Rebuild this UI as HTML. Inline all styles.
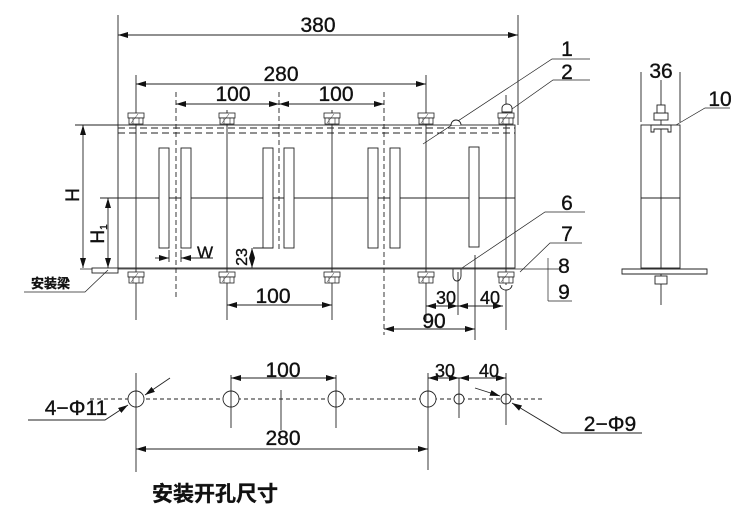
<!DOCTYPE html>
<html><head><meta charset="utf-8"><style>
body{margin:0;background:#fff;}
svg{display:block;}
text{font-family:"Liberation Sans","Noto Sans CJK SC",sans-serif;fill:#111;stroke:#111;stroke-width:0.35;}
</style></head><body>
<svg width="750" height="531" viewBox="0 0 750 531" xmlns="http://www.w3.org/2000/svg">
<defs>
<marker id="a" viewBox="0 0 10 6" refX="10" refY="3" markerWidth="10" markerHeight="6" orient="auto-start-reverse" markerUnits="userSpaceOnUse"><path d="M0,0L10,3L0,6z" fill="#111"/></marker>
<g id="nut"><rect x="-8" y="0" width="16" height="5" fill="#fff" stroke="#222" stroke-width="0.8"/><rect x="-7" y="5" width="14" height="6" fill="#fff" stroke="#222" stroke-width="0.8"/><line x1="-3" y1="5" x2="-3" y2="11" stroke="#222" stroke-width="0.6"/><line x1="3" y1="5" x2="3" y2="11" stroke="#222" stroke-width="0.6"/><line x1="-5" y1="10" x2="2" y2="1" stroke="#222" stroke-width="0.5"/></g>
</defs>
<g stroke="#222" stroke-width="0.9" fill="none">
<rect x="118" y="125" width="397" height="143"/>
<line x1="118" y1="128" x2="515" y2="128" stroke-dasharray="7,4"/>
<line x1="118" y1="133" x2="515" y2="133" stroke-dasharray="7,4"/>
<line x1="118" y1="198" x2="515" y2="198"/>
<line x1="80" y1="269" x2="560" y2="269" stroke-width="0.7"/>
<rect x="159" y="148" width="10" height="100" fill="#fff"/>
<rect x="181" y="148" width="10" height="100" fill="#fff"/>
<rect x="263" y="148" width="10" height="100" fill="#fff"/>
<rect x="284" y="148" width="10" height="100" fill="#fff"/>
<rect x="368" y="148" width="10" height="100" fill="#fff"/>
<rect x="390" y="148" width="10" height="100" fill="#fff"/>
<rect x="469" y="147" width="10" height="100" fill="#fff"/>
<line x1="136" y1="75" x2="136" y2="320"/>
<line x1="227" y1="110" x2="227" y2="320"/>
<line x1="332" y1="110" x2="332" y2="320"/>
<line x1="426" y1="75" x2="426" y2="320"/>
<line x1="506" y1="95" x2="506" y2="330"/>
<g stroke-dasharray="5,3">
<line x1="176" y1="92" x2="176" y2="300"/>
<line x1="279" y1="92" x2="279" y2="250"/>
<line x1="384" y1="92" x2="384" y2="335"/>
</g>
<line x1="118" y1="15" x2="118" y2="125"/>
<line x1="518" y1="15" x2="518" y2="125"/>
<line x1="118" y1="35" x2="518" y2="35" marker-start="url(#a)" marker-end="url(#a)"/>
<line x1="136" y1="84" x2="426" y2="84" marker-start="url(#a)" marker-end="url(#a)"/>
<line x1="176" y1="104" x2="279" y2="104" marker-start="url(#a)" marker-end="url(#a)"/>
<line x1="279" y1="104" x2="384" y2="104" marker-start="url(#a)" marker-end="url(#a)"/>
<line x1="227" y1="305" x2="332" y2="305" marker-start="url(#a)" marker-end="url(#a)"/>
<line x1="426" y1="306" x2="458" y2="306" marker-start="url(#a)" marker-end="url(#a)"/>
<line x1="458" y1="306" x2="503" y2="306" marker-start="url(#a)" marker-end="url(#a)"/>
<line x1="458" y1="272" x2="458" y2="315"/>
<line x1="475" y1="255" x2="475" y2="340"/>
<line x1="384" y1="329" x2="475" y2="329" marker-start="url(#a)" marker-end="url(#a)"/>
<line x1="75" y1="125" x2="118" y2="125"/>
<line x1="83" y1="125" x2="83" y2="268" marker-start="url(#a)" marker-end="url(#a)"/>
<line x1="100" y1="198" x2="118" y2="198"/>
<line x1="108" y1="198" x2="108" y2="268" marker-start="url(#a)" marker-end="url(#a)"/>
<line x1="155" y1="258" x2="169" y2="258" marker-end="url(#a)"/>
<line x1="213" y1="258" x2="181" y2="258" marker-end="url(#a)"/>
<line x1="169" y1="250" x2="169" y2="262"/>
<line x1="181" y1="250" x2="181" y2="262"/>
<line x1="253" y1="248" x2="273" y2="248"/>
<line x1="252" y1="252" x2="252" y2="248" marker-end="url(#a)"/>
<line x1="252" y1="262" x2="252" y2="268" marker-end="url(#a)"/>
<rect x="92" y="268" width="26" height="5" fill="#fff"/>
<polyline points="24,292 85,292 108,270" stroke-width="0.7"/>
<polyline points="423,144 552,59 590,59" stroke-width="0.7"/>
<polyline points="512,109 553,80 590,80" stroke-width="0.7"/>
<polyline points="462,268 545,212 585,212" stroke-width="0.7"/>
<polyline points="520,272 550,243 582,243" stroke-width="0.7"/>
<line x1="548" y1="258" x2="548" y2="301" stroke-width="0.7"/>
<line x1="548" y1="301" x2="572" y2="301" stroke-width="0.7"/>
<path d="M451,125 a5,5 0 0 1 10,0" fill="#fff"/>
<path d="M453,269 v7 a4,5 0 0 0 8,0 v-7"/>
<path d="M502,108 a5,4 0 0 1 10,0 v4 h-10z" fill="#fff"/>
<path d="M500,285 a6,5 0 0 0 12,0" fill="#fff"/>
<rect x="641" y="125" width="39" height="143"/>
<line x1="641" y1="198" x2="680" y2="198"/>
<line x1="661" y1="80" x2="661" y2="305"/>
<line x1="641" y1="72" x2="641" y2="122"/>
<line x1="680" y1="72" x2="680" y2="122"/>
<path d="M622,269 H707 V274 H622z" fill="#fff"/>
<path d="M651,125 v7 h3 v-3 h14 v3 h3 v-7z" fill="#fff"/>
<rect x="654" y="113" width="14" height="7" fill="#fff"/>
<rect x="657" y="105" width="8" height="8" fill="#fff"/>
<rect x="655" y="276" width="12" height="8" fill="#fff"/>
<polyline points="676,125 705,108 730,108" stroke-width="0.7"/>
<line x1="90" y1="399" x2="545" y2="399" stroke-dasharray="4,3"/>
<circle cx="136" cy="399" r="8" fill="#fff"/>
<circle cx="231" cy="399" r="8" fill="#fff"/>
<circle cx="336" cy="399" r="8" fill="#fff"/>
<circle cx="428" cy="399" r="8" fill="#fff"/>
<circle cx="459" cy="399" r="5" fill="#fff"/>
<circle cx="506" cy="399" r="5" fill="#fff"/>
<line x1="136" y1="373" x2="136" y2="472"/>
<line x1="231" y1="375" x2="231" y2="428"/>
<line x1="336" y1="375" x2="336" y2="428"/>
<line x1="428" y1="373" x2="428" y2="470"/>
<line x1="459" y1="378" x2="459" y2="418"/>
<line x1="506" y1="373" x2="506" y2="425"/>
<line x1="281" y1="390" x2="281" y2="430"/>
<line x1="231" y1="378" x2="336" y2="378" marker-start="url(#a)" marker-end="url(#a)"/>
<line x1="428" y1="378" x2="459" y2="378" marker-start="url(#a)" marker-end="url(#a)"/>
<line x1="459" y1="378" x2="506" y2="378" marker-start="url(#a)" marker-end="url(#a)"/>
<line x1="136" y1="449" x2="428" y2="449" marker-start="url(#a)" marker-end="url(#a)"/>
<line x1="170" y1="378" x2="145" y2="395" marker-end="url(#a)"/>
<polyline points="28,420 105,420 128,405" marker-end="url(#a)"/>
<line x1="475" y1="388" x2="500" y2="396" marker-end="url(#a)"/>
<polyline points="642,433 562,433 512,403" marker-end="url(#a)"/>
</g>
<g>
<use href="#nut" x="136" y="113"/><use href="#nut" x="227" y="113"/><use href="#nut" x="332" y="113"/><use href="#nut" x="426" y="113"/><use href="#nut" x="506" y="113"/>
<use href="#nut" x="136" y="272"/><use href="#nut" x="227" y="272"/><use href="#nut" x="332" y="272"/><use href="#nut" x="426" y="272"/><use href="#nut" x="506" y="272"/>
</g>
<g font-size="21" text-anchor="middle">
<text x="318" y="32">380</text>
<text x="281" y="81">280</text>
<text x="233" y="101">100</text>
<text x="336" y="101">100</text>
<text x="273" y="303">100</text>
<text x="446" y="304" font-size="18">30</text>
<text x="490" y="304" font-size="18">40</text>
<text x="434" y="328">90</text>
<text x="567" y="56">1</text>
<text x="567" y="79">2</text>
<text x="567" y="210">6</text>
<text x="567" y="241">7</text>
<text x="564" y="273">8</text>
<text x="564" y="299">9</text>
<text x="661" y="78">36</text>
<text x="720" y="106">10</text>
<text x="205" y="258" font-size="17">W</text>
<text x="283" y="377">100</text>
<text x="445" y="377" font-size="18">30</text>
<text x="489" y="377" font-size="18">40</text>
<text x="283" y="445">280</text>
<text x="76" y="415">4−Φ11</text>
<text x="610" y="431">2−Φ9</text>
<text transform="translate(79,195) rotate(-90)" font-size="19">H</text>
<text transform="translate(104,234) rotate(-90)" font-size="19">H<tspan font-size="10" dy="3">1</tspan></text>
<text transform="translate(247,257) rotate(-90)" font-size="16">23</text>
</g>
<text x="31" y="288" font-size="13" font-weight="bold">安装梁</text>
<text x="152" y="501" font-size="21" font-weight="bold">安装开孔尺寸</text>
</svg>
</body></html>
